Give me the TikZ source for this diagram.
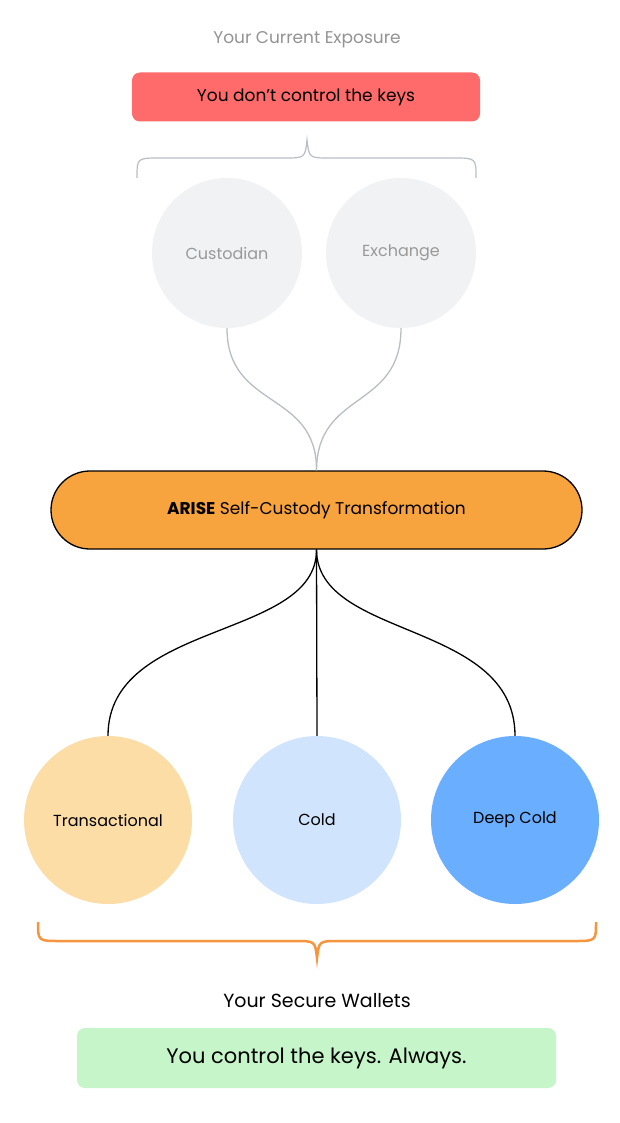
\documentclass[tikz,border=0pt]{standalone}
\usepackage{fontspec}
\setmainfont{Poppins}
\usetikzlibrary{positioning}
\definecolor{keyred}{HTML}{FF6B6B}
\definecolor{softgray}{HTML}{F1F2F4}
\definecolor{pillorange}{HTML}{F7A33E}
\definecolor{txpeach}{HTML}{FDDDA6}
\definecolor{coldblue}{HTML}{D0E4FD}
\definecolor{deepblue}{HTML}{6AAFFF}
\definecolor{okgreen}{HTML}{C5F5C9}
\definecolor{bracegray}{HTML}{B9BDC4}
\definecolor{bracorange}{HTML}{F7943E}
\tikzset{wallet/.style={circle, minimum size=168pt, inner sep=0pt, font=\fontsize{16}{18}\selectfont}}
\tikzset{oldwallet/.style={circle, minimum size=150pt, inner sep=0pt, fill=softgray, text=gray!80, font=\fontsize{16}{18}\selectfont}}
\tikzset{banner/.style={rounded corners=8pt, inner sep=0pt}}
\tikzset{link/.style={draw, line width=1.3pt}}
\begin{document}
\begin{tikzpicture}[x=1pt,y=-1pt]
\useasboundingbox[fill=white] (0,0) rectangle (619,1123);

%exposure
\node[text=gray!85, font=\fontsize{17}{20}\selectfont] (exptitle) at (307,40) {Your Current Exposure};
\node[banner, fill=keyred, minimum width=348pt, minimum height=49pt, font=\fontsize{17}{20}\selectfont] (nokeys) at (306,97) {You don't control the keys};
\draw[bracegray, line width=1.2pt] (137,178) .. controls (137,158) .. (160,158) -- (284,158) .. controls (305,158) .. (307,140)
  .. controls (309,158) .. (330,158) -- (453,158) .. controls (476,158) .. (476,178);
\node[oldwallet] (custodian) at (227,253) {Custodian};
\node[oldwallet] (exchange) at (401,253) {Exchange};

%transformation
\node[draw, line width=1.3pt, fill=pillorange, rounded corners=39pt, minimum width=531pt, minimum height=78pt, font=\fontsize{17}{20}\selectfont] (arise) at (316.5,510) {\textbf{ARISE} Self-Custody Transformation};
\path[link, bracegray] (custodian.south) .. controls (227,410) and (317,390) .. (arise.north);
\path[link, bracegray] (exchange.south) .. controls (401,410) and (317,390) .. (arise.north);

%secure wallets
\node[wallet, fill=txpeach] (trans) at (108,820) {Transactional};
\node[wallet, fill=coldblue] (cold) at (317,820) {Cold};
\node[wallet, fill=deepblue] (deep) at (515,820) {Deep Cold};
\path[link] (arise.south) .. controls (317,640) and (108,620) .. (trans.north);
\path[link] (arise.south) -- (cold.north);
\path[link] (arise.south) .. controls (317,640) and (515,620) .. (deep.north);
\draw[bracorange, line width=2.5pt] (38,922) .. controls (38,941) .. (60,941) -- (295,941) .. controls (315,941) .. (317,958)
  .. controls (319,941) .. (339,941) -- (574,941) .. controls (596,941) .. (596,922);
\node[font=\fontsize{19}{22}\selectfont] (securetitle) at (317,1001) {Your Secure Wallets};
\node[banner, fill=okgreen, minimum width=479pt, minimum height=60pt, font=\fontsize{21}{24}\selectfont] (keys) at (316.5,1058) {You control the keys. Always.};

\end{tikzpicture}
\end{document}
